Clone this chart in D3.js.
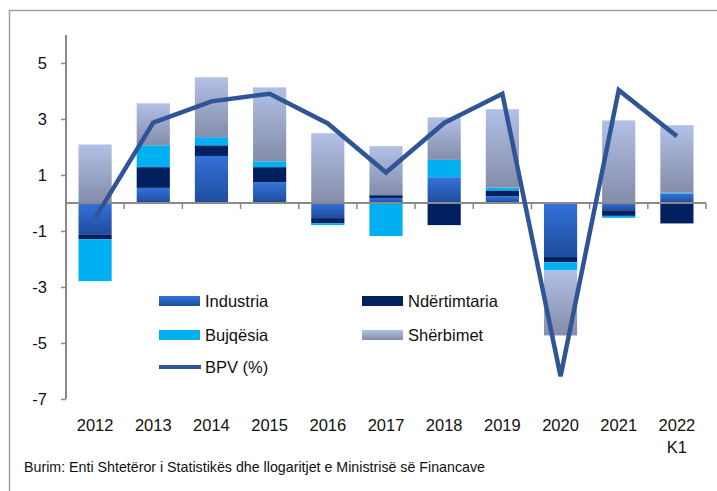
<!DOCTYPE html>
<html>
<head>
<meta charset="utf-8">
<script src="https://cdn.jsdelivr.net/npm/d3@7"></script>
<style>
  body { margin: 0; background: #fff; }
  svg text { font-family: "Liberation Sans", Arial, sans-serif; fill: #111; }
</style>
</head>
<body>
<div class="container"></div>
<script>
// data (contributions, pp)
const years = ["2012", "2013", "2014", "2015", "2016", "2017", "2018", "2019", "2020", "2021", "2022"];
const industria    = [-1.12, 0.54, 1.68, 0.74, -0.54, 0.18, 0.92, 0.24, -1.93, -0.26, 0.34];
const ndertimtaria = [-0.18, 0.74, 0.38, 0.54, -0.18, 0.10, -0.79, 0.21, -0.19, -0.20, -0.73];
const bujqesia     = [-1.49, 0.78, 0.29, 0.21, -0.07, -1.18, 0.62, 0.10, -0.29, -0.07, 0.03];
const sherbimet    = [2.09, 1.50, 2.14, 2.64, 2.49, 1.75, 1.52, 2.80, -2.32, 2.95, 2.41];
const bpv          = [-0.54, 2.87, 3.63, 3.90, 2.84, 1.09, 2.86, 3.90, -6.19, 4.03, 2.38];
const yTicks = [5, 3, 1, -1, -3, -5, -7];

const W = 717, H = 491;
const FS = 16.5;
const svg = d3.select(".container").append("svg")
  .attr("width", W).attr("height", H);

const defs = svg.append("defs");
function vGrad(id, top, bottom) {
  const g = defs.append("linearGradient").attr("id", id)
    .attr("x1", 0).attr("y1", 0).attr("x2", 0).attr("y2", 1);
  g.append("stop").attr("offset", "0%").attr("stop-color", top);
  g.append("stop").attr("offset", "100%").attr("stop-color", bottom);
}
vGrad("gInd", "#3372da", "#1f4c9c");
vGrad("gSher", "#b2c0e6", "#848da9");

const keys = ["Industria", "Ndërtimtaria", "Bujqësia", "Shërbimet"];
const fills = {
  "Industria": "url(#gInd)",
  "Ndërtimtaria": "#00205f",
  "Bujqësia": "#00b0f0",
  "Shërbimet": "url(#gSher)"
};

const table = years.map((y, i) => ({
  year: y,
  "Industria": industria[i],
  "Ndërtimtaria": ndertimtaria[i],
  "Bujqësia": bujqesia[i],
  "Shërbimet": sherbimet[i],
  bpv: bpv[i]
}));

// outer frame
svg.append("path")
  .attr("d", `M9.5 ${H} V10.5 H${W}`)
  .attr("fill", "none").attr("stroke", "#a0a0a0").attr("stroke-width", 1.5);

const x = d3.scaleBand().domain(years).range([66, 706]).paddingInner(0.43).paddingOuter(0.215);
const y = d3.scaleLinear().domain([-7, 6]).range([399, 35]);

const series = d3.stack().keys(keys).offset(d3.stackOffsetDiverging)(table);

svg.append("g").selectAll("g")
  .data(series)
  .join("g")
  .attr("fill", d => fills[d.key])
  .selectAll("rect")
  .data(d => d)
  .join("rect")
  .attr("x", d => x(d.data.year))
  .attr("width", x.bandwidth())
  .attr("y", d => y(Math.max(d[0], d[1])))
  .attr("height", d => Math.abs(y(d[0]) - y(d[1])));

// y axis
const yAxis = svg.append("g").attr("transform", "translate(66,0)")
  .call(d3.axisLeft(y).tickValues(yTicks).tickSize(5).tickPadding(14).tickFormat(d => String(d)));
yAxis.select(".domain").attr("d", `M0 ${y(6)} V${y(-7)}`).attr("stroke", "#8a8a8a").attr("stroke-width", 2);
yAxis.selectAll(".tick line").attr("stroke", "#8a8a8a").attr("stroke-width", 1.5);
yAxis.selectAll(".tick text").attr("font-size", FS).style("font-family", "Liberation Sans, Arial, sans-serif").attr("fill", "#111");

// zero axis with category ticks
const xb = d3.scaleLinear().domain([0, years.length]).range([66, 706]);
const xAxis = svg.append("g").attr("transform", `translate(0,${y(0)})`);
xAxis.append("line").attr("x1", 66).attr("x2", 706)
  .attr("stroke", "#8a8a8a").attr("stroke-width", 2);
xAxis.selectAll("line.tk").data(d3.range(1, years.length + 1)).join("line")
  .attr("class", "tk")
  .attr("x1", d => xb(d)).attr("x2", d => xb(d))
  .attr("y1", 0).attr("y2", 6)
  .attr("stroke", "#8a8a8a").attr("stroke-width", 1.5);

// category labels
svg.append("g").selectAll("text").data(years).join("text")
  .attr("x", d => x(d) + x.bandwidth() / 2)
  .attr("y", 431)
  .attr("text-anchor", "middle")
  .attr("font-size", FS)
  .text(d => d);
svg.append("text")
  .attr("x", x("2022") + x.bandwidth() / 2).attr("y", 453)
  .attr("text-anchor", "middle").attr("font-size", FS).text("K1");

// BPV line
const line = d3.line()
  .x(d => x(d.year) + x.bandwidth() / 2)
  .y(d => y(d.bpv));
svg.append("path").datum(table)
  .attr("d", line)
  .attr("fill", "none")
  .attr("stroke", "#2f5597")
  .attr("stroke-width", 4.5)
  .attr("stroke-linejoin", "miter");

// legend
const legendItems = [
  { name: "Industria", col: 0, row: 0 },
  { name: "Ndërtimtaria", col: 1, row: 0 },
  { name: "Bujqësia", col: 0, row: 1 },
  { name: "Shërbimet", col: 1, row: 1 }
];
const lg = svg.append("g");
legendItems.forEach(it => {
  const lx = it.col ? 362 : 159, ly = 296 + it.row * 34;
  lg.append("rect").attr("x", lx).attr("y", ly).attr("width", 41).attr("height", 10)
    .attr("fill", fills[it.name]);
  lg.append("text").attr("x", lx + 46).attr("y", ly + 11).attr("font-size", FS).text(it.name);
});
lg.append("line").attr("x1", 159).attr("x2", 201).attr("y1", 367).attr("y2", 367)
  .attr("stroke", "#2f5597").attr("stroke-width", 4);
lg.append("text").attr("x", 205).attr("y", 373).attr("font-size", FS).text("BPV (%)");

// source
svg.append("text")
  .attr("x", 24).attr("y", 472)
  .attr("font-size", 15)
  .attr("textLength", 461).attr("lengthAdjust", "spacingAndGlyphs")
  .text("Burim: Enti Shtetëror i Statistikës dhe llogaritjet e Ministrisë së Financave");
</script>
</body>
</html>
